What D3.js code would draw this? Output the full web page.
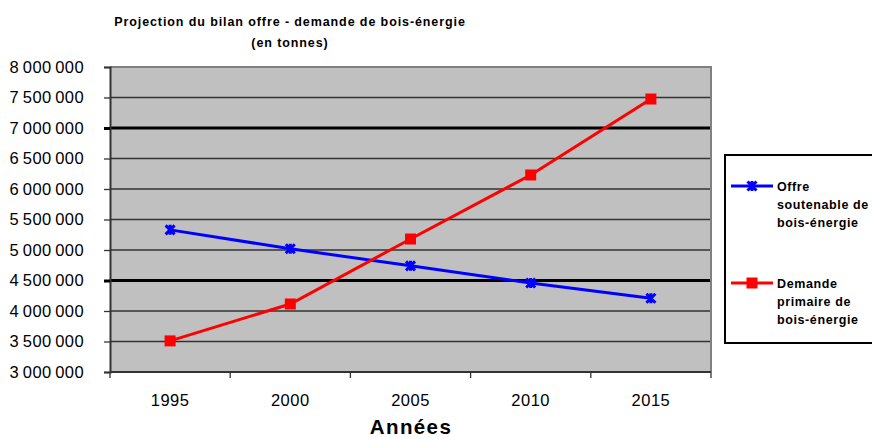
<!DOCTYPE html>
<html>
<head>
<meta charset="utf-8">
<script src="https://cdn.jsdelivr.net/npm/d3@7"></script>
<style>
  html, body { margin: 0; padding: 0; background: #fff; }
  svg { display: block; font-family: "Liberation Sans", Arial, sans-serif; }
</style>
</head>
<body>
<svg id="chart" width="872" height="439"></svg>
<script>
// Years on the category axis
const years = ["1995", "2000", "2005", "2010", "2015"];
// Sustainable supply of fuelwood (tonnes)
const offre = [5330000, 5020000, 4740000, 4460000, 4210000];
// Primary demand for fuelwood (tonnes)
const demande = [3510000, 4115000, 5180000, 6230000, 7475000];
// Value axis ticks
const yTicks = [3000000, 3500000, 4000000, 4500000, 5000000, 5500000, 6000000, 6500000, 7000000, 7500000, 8000000];
// Gridlines drawn heavier
const heavyLines = [4500000, 7000000];

const series = [
  { name: ["Offre", "soutenable de", "bois-énergie"], values: offre, color: "#0000ff", marker: "star" },
  { name: ["Demande", "primaire de", "bois-énergie"], values: demande, color: "#ff0000", marker: "square" }
];

const svg = d3.select("#chart");
const plot = { left: 110, right: 711, top: 67, bottom: 372 };

const x = d3.scaleBand().domain(years).range([plot.left, plot.right]);
const y = d3.scaleLinear().domain([3000000, 8000000]).range([plot.bottom, plot.top]);

// Plot area background
svg.append("rect")
  .attr("x", plot.left).attr("y", plot.top)
  .attr("width", plot.right - plot.left).attr("height", plot.bottom - plot.top)
  .attr("fill", "#c0c0c0");

// Horizontal gridlines
svg.append("g").selectAll("line")
  .data(yTicks.slice(1, -1))
  .join("line")
  .attr("x1", plot.left).attr("x2", plot.right)
  .attr("y1", d => y(d)).attr("y2", d => y(d))
  .attr("stroke", d => heavyLines.includes(d) ? "#000" : "#333")
  .attr("stroke-width", d => heavyLines.includes(d) ? 3 : 1.3);

// Plot border (top and right)
svg.append("path")
  .attr("d", `M${plot.left},${plot.top}H${plot.right}V${plot.bottom}`)
  .attr("fill", "none").attr("stroke", "#808080").attr("stroke-width", 2);

// Y axis, digits grouped by thin spaces
const fmt = d => d3.format(",")(d).replace(/,/g, "\u2009");
const yAxis = svg.append("g")
  .attr("transform", `translate(${plot.left},0)`)
  .call(d3.axisLeft(y).tickValues(yTicks).tickFormat(fmt).tickSize(6).tickPadding(20));
yAxis.select(".domain").attr("stroke", "#333").attr("stroke-width", 2);
yAxis.selectAll(".tick line").attr("stroke", "#333").attr("stroke-width", 1.3);
yAxis.selectAll(".tick line").filter(d => heavyLines.includes(d)).attr("stroke", "#000").attr("stroke-width", 3);
yAxis.selectAll("text").attr("font-size", 16.5).attr("fill", "#000").attr("letter-spacing", "0.4");

// X axis with ticks at category boundaries
const xAxisG = svg.append("g").attr("transform", `translate(0,${plot.bottom})`);
xAxisG.append("line")
  .attr("x1", plot.left).attr("x2", plot.right)
  .attr("stroke", "#333").attr("stroke-width", 2);
const bounds = years.map(d => x(d)).concat([x(years[years.length - 1]) + x.bandwidth()]);
xAxisG.selectAll("line.tk").data(bounds).join("line")
  .attr("class", "tk")
  .attr("x1", d => d).attr("x2", d => d)
  .attr("y1", 0).attr("y2", 6)
  .attr("stroke", "#333").attr("stroke-width", 1.3);
xAxisG.selectAll("text").data(years).join("text")
  .attr("x", d => x(d) + x.bandwidth() / 2)
  .attr("y", 34)
  .attr("text-anchor", "middle")
  .attr("font-size", 16.5)
  .attr("letter-spacing", "0.5")
  .text(d => d);

// Axis title
svg.append("text")
  .attr("x", 411).attr("y", 434)
  .attr("text-anchor", "middle")
  .attr("font-size", 20.5).attr("font-weight", "bold")
  .attr("letter-spacing", "1.4")
  .text("Années");

// Chart title
const title = svg.append("text")
  .attr("text-anchor", "middle")
  .attr("font-size", 12.5).attr("font-weight", "bold")
  .attr("letter-spacing", "0.9");
title.append("tspan").attr("x", 290).attr("y", 26).text("Projection du bilan offre - demande de bois-énergie");
title.append("tspan").attr("x", 290).attr("y", 47).text("(en tonnes)");

// Markers
function drawMarker(g, type, color, cx, cy) {
  if (type === "square") {
    g.append("rect")
      .attr("x", cx - 5.5).attr("y", cy - 5.5)
      .attr("width", 11).attr("height", 11)
      .attr("fill", color);
  } else {
    const s = 4.5;
    g.append("path")
      .attr("d", `M${cx - s},${cy - s}L${cx + s},${cy + s}M${cx - s},${cy + s}L${cx + s},${cy - s}M${cx},${cy - s - 0.5}V${cy + s + 0.5}`)
      .attr("stroke", color).attr("stroke-width", 3).attr("fill", "none");
  }
}

const line = d3.line()
  .x((d, i) => x(years[i]) + x.bandwidth() / 2)
  .y(d => y(d));

series.forEach(s => {
  const g = svg.append("g");
  g.append("path")
    .datum(s.values)
    .attr("d", line)
    .attr("fill", "none")
    .attr("stroke", s.color)
    .attr("stroke-width", 3);
  s.values.forEach((v, i) => drawMarker(g, s.marker, s.color, x(years[i]) + x.bandwidth() / 2, y(v)));
});

// Legend
const legend = svg.append("g");
legend.append("rect")
  .attr("x", 725).attr("y", 155)
  .attr("width", 160).attr("height", 188)
  .attr("fill", "#fff").attr("stroke", "#000").attr("stroke-width", 2);
const legendY = [186, 283];
series.forEach((s, i) => {
  const ly = legendY[i];
  legend.append("line")
    .attr("x1", 731).attr("x2", 773)
    .attr("y1", ly).attr("y2", ly)
    .attr("stroke", s.color).attr("stroke-width", 3);
  drawMarker(legend, s.marker, s.color, 752, ly);
  const t = legend.append("text")
    .attr("font-size", 12.5).attr("font-weight", "bold")
    .attr("letter-spacing", "0.6");
  s.name.forEach((nm, j) => {
    t.append("tspan").attr("x", 777).attr("y", ly + 5 + j * 18).text(nm);
  });
});
</script>
</body>
</html>
